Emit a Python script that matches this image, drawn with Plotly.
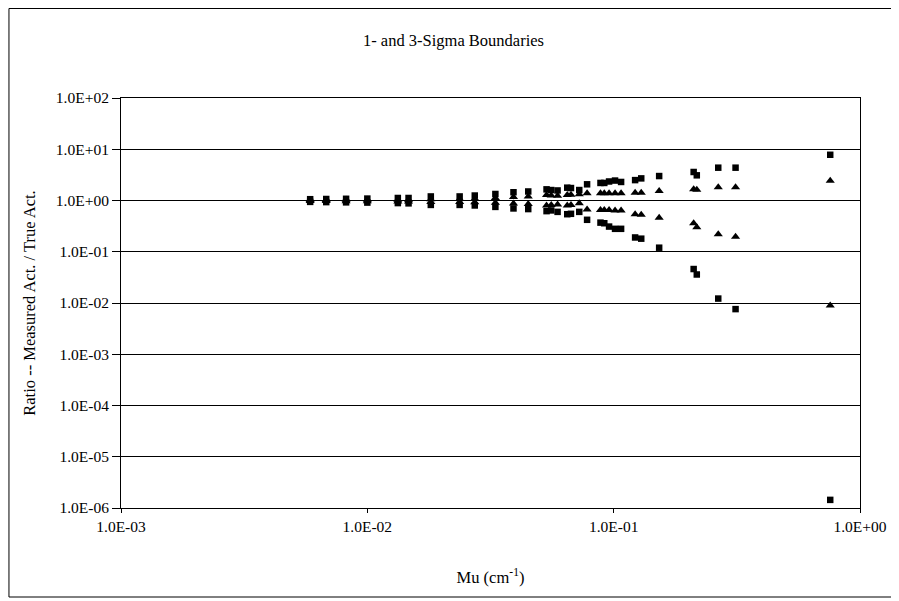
import plotly.graph_objects as go

# Mu values (cm^-1)
mu = [0.00586, 0.00681, 0.0082, 0.0100, 0.0133, 0.0147, 0.0181, 0.0237, 0.0273, 0.0331,
      0.0392, 0.0450, 0.0534, 0.0558, 0.0592, 0.0648, 0.0671, 0.0725, 0.0780, 0.0884,
      0.0916, 0.0958, 0.1013, 0.1072, 0.1222, 0.1294, 0.1530, 0.2112, 0.2175, 0.2658,
      0.3125, 0.7570]

# 3-sigma boundaries (squares)
upper3 = [1.06, 1.07, 1.08, 1.09, 1.12, 1.12, 1.20, 1.20, 1.25, 1.34,
          1.45, 1.50, 1.65, 1.60, 1.57, 1.78, 1.75, 1.60, 2.07, 2.20,
          2.20, 2.35, 2.45, 2.30, 2.50, 2.70, 3.00, 3.60, 3.10, 4.37,
          4.37, 7.80]
lower3 = [0.94, 0.93, 0.92, 0.91, 0.89, 0.88, 0.82, 0.82, 0.80, 0.75,
          0.70, 0.68, 0.62, 0.64, 0.60, 0.54, 0.55, 0.60, 0.42, 0.37,
          0.36, 0.31, 0.28, 0.28, 0.19, 0.18, 0.12, 0.046, 0.036, 0.0122,
          0.0076, 1.44e-6]

# 1-sigma boundaries (triangles)
upper1 = [1.02, 1.02, 1.03, 1.03, 1.04, 1.04, 1.06, 1.07, 1.08, 1.12,
          1.17, 1.20, 1.28, 1.25, 1.24, 1.28, 1.30, 1.32, 1.38, 1.38,
          1.38, 1.38, 1.38, 1.38, 1.42, 1.42, 1.53, 1.65, 1.62, 1.81,
          1.81, 2.43]
lower1 = [0.98, 0.98, 0.97, 0.97, 0.96, 0.96, 0.93, 0.93, 0.92, 0.90,
          0.87, 0.85, 0.80, 0.82, 0.84, 0.80, 0.82, 0.88, 0.67, 0.65,
          0.65, 0.65, 0.64, 0.64, 0.54, 0.53, 0.46, 0.36, 0.30, 0.22,
          0.197, 0.0089]

x_ticks = [1e-3, 1e-2, 1e-1, 1e0]
x_tick_labels = ["1.0E-03", "1.0E-02", "1.0E-01", "1.0E+00"]
y_ticks = [1e2, 1e1, 1e0, 1e-1, 1e-2, 1e-3, 1e-4, 1e-5, 1e-6]
y_tick_labels = ["1.0E+02", "1.0E+01", "1.0E+00", "1.0E-01", "1.0E-02",
                 "1.0E-03", "1.0E-04", "1.0E-05", "1.0E-06"]

FONT = "Liberation Serif"
FS_TICK = 15.5
FS_TITLE = 16.5

fig = go.Figure()
sq = dict(symbol="square", size=6.5, color="black")
tri = dict(symbol="triangle-up", size=8, color="black")
fig.add_trace(go.Scatter(x=mu, y=upper3, mode="markers", marker=sq, name="3-sigma upper"))
fig.add_trace(go.Scatter(x=mu, y=lower3, mode="markers", marker=sq, name="3-sigma lower"))
fig.add_trace(go.Scatter(x=mu, y=upper1, mode="markers", marker=tri, name="1-sigma upper"))
fig.add_trace(go.Scatter(x=mu, y=lower1, mode="markers", marker=tri, name="1-sigma lower"))

W, H = 891, 593
L, R, T, B = 113, 36, 90, 93

fig.update_layout(
    width=W, height=H,
    margin=dict(l=L, r=R, t=T, b=B),
    paper_bgcolor="white", plot_bgcolor="white",
    showlegend=False,
    font=dict(family=FONT, size=FS_TICK, color="black"),
    title=dict(text="1- and 3-Sigma Boundaries", x=0.5, xref="container",
               xanchor="center", y=1 - 32 / H, yanchor="middle",
               font=dict(family=FONT, size=FS_TITLE, color="black")),
)

fig.update_xaxes(
    type="log", range=[-3, 0],
    tickvals=x_ticks, ticktext=x_tick_labels,
    showgrid=False, zeroline=False,
    showline=True, linecolor="black", linewidth=1, mirror=True,
    ticks="outside", ticklen=4, tickcolor="black",
    tickfont=dict(family=FONT, size=FS_TICK, color="black"),
    title=dict(text="Mu (cm<sup>-1</sup>)", font=dict(family=FONT, size=FS_TITLE, color="black"),
               standoff=37),
)
fig.update_yaxes(
    type="log", range=[-6, 2],
    tickvals=y_ticks, ticktext=y_tick_labels,
    showgrid=True, gridcolor="black", gridwidth=1, zeroline=False,
    showline=True, linecolor="black", linewidth=1, mirror=True,
    ticks="outside", ticklen=8, tickcolor="black",
    tickfont=dict(family=FONT, size=FS_TICK, color="black"),
    title=dict(text="Ratio -- Measured Act. / True Act.",
               font=dict(family=FONT, size=FS_TITLE, color="black"), standoff=16),
)

# outer chart border (figure pixels converted to paper fractions)
pw, ph = W - L - R, H - T - B
fig.add_shape(type="rect", xref="paper", yref="paper",
              x0=(0.5 - L) / pw, x1=(887 - L) / pw,
              y0=(ph + T - 589) / ph, y1=(ph + T - 0.5) / ph,
              line=dict(color="black", width=1), fillcolor="rgba(0,0,0,0)", layer="below")

fig.write_html("out.html")
